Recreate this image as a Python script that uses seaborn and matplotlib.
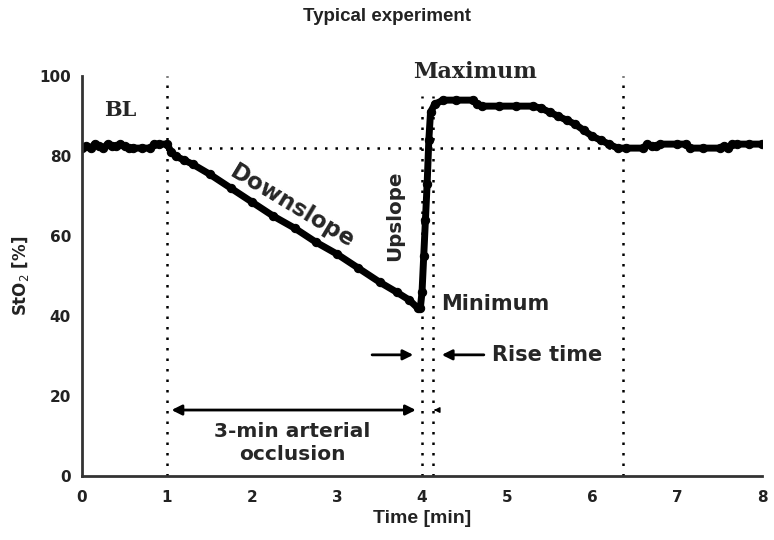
import numpy as np
import pandas as pd
import matplotlib
matplotlib.use("Agg")
import matplotlib.pyplot as plt
import seaborn as sns

# StO2 trace (time in min, StO2 in %)
time_min = [0.00, 0.05, 0.10, 0.15, 0.20, 0.25, 0.30, 0.35, 0.40, 0.45, 0.50, 0.55,
            0.60, 0.70, 0.80, 0.85, 0.90, 1.00, 1.05, 1.10, 1.20, 1.30, 1.50, 1.75,
            2.00, 2.25, 2.50, 2.75, 3.00, 3.25, 3.50, 3.70, 3.85, 3.95, 3.98, 4.00,
            4.02, 4.04, 4.06, 4.08, 4.10, 4.15, 4.25, 4.40, 4.60, 4.65, 4.70, 4.90,
            5.10, 5.30, 5.40, 5.50, 5.60, 5.70, 5.80, 5.90, 6.00, 6.10, 6.20, 6.30,
            6.40, 6.60, 6.65, 6.70, 6.75, 6.80, 7.00, 7.10, 7.15, 7.30, 7.50, 7.55,
            7.60, 7.65, 7.70, 7.85, 8.00]
sto2 = [82.0, 82.5, 82.0, 83.0, 82.5, 82.0, 83.0, 82.5, 82.5, 83.0, 82.5, 82.0,
        82.0, 82.0, 82.0, 83.0, 83.0, 83.0, 81.0, 80.0, 79.0, 78.0, 75.5, 72.0,
        68.5, 65.0, 62.0, 58.5, 55.5, 52.0, 48.5, 46.0, 44.0, 42.0, 42.0, 46.0,
        55.0, 64.0, 73.0, 84.0, 91.0, 93.0, 94.0, 94.0, 94.0, 93.0, 92.5, 92.5,
        92.5, 92.5, 92.0, 91.0, 90.0, 89.0, 88.0, 86.5, 85.0, 84.0, 83.0, 82.0,
        82.0, 82.0, 83.0, 82.5, 82.5, 83.0, 83.0, 83.0, 82.0, 82.0, 82.0, 82.5,
        82.0, 83.0, 83.0, 83.0, 83.0]

x_ticks = [0, 1, 2, 3, 4, 5, 6, 7, 8]
y_ticks = [0, 20, 40, 60, 80, 100]
event_times = [1.0, 4.0, 4.13, 6.37]
baseline = 82

df = pd.DataFrame({"time": time_min, "sto2": sto2})

sns.set_style("white")
plt.rcParams["font.family"] = ["DejaVu Sans"]

fig = plt.figure(figsize=(7.74, 5.40), dpi=100)
ax = fig.add_axes([0.106, 0.1185, 0.8785, 0.7405])

# reference lines
dots = (0, (1, 3.2))
ax.axvline(event_times[0], ymin=0, ymax=1.0, color="black", ls=dots, lw=1.8)
ax.axvline(event_times[1], ymin=0, ymax=0.95, color="black", ls=dots, lw=1.8)
ax.axvline(event_times[2], ymin=0, ymax=0.95, color="black", ls=dots, lw=1.8)
ax.axvline(event_times[3], ymin=0, ymax=1.0, color="black", ls=dots, lw=1.8)
ax.plot([event_times[0], event_times[3]], [baseline, baseline], color="black",
        ls=dots, lw=1.8)

sns.lineplot(data=df, x="time", y="sto2", ax=ax, color="black", lw=5,
             marker="o", markersize=6, markeredgecolor="black")

ax.set_xlim(0, 8)
ax.set_ylim(0, 100)
ax.set_xticks(x_ticks)
ax.set_yticks(y_ticks)
for lbl in ax.get_xticklabels() + ax.get_yticklabels():
    lbl.set_fontweight("bold")
    lbl.set_fontsize(11)
    lbl.set_color("#222222")
ax.tick_params(axis="x", direction="out", length=4, width=1.5, color="#333333", pad=6)
ax.tick_params(axis="y", direction="out", length=4, width=1.5, color="#333333", pad=4)
sns.despine(ax=ax)
for s in ["left", "bottom"]:
    ax.spines[s].set_linewidth(2)
    ax.spines[s].set_color("#333333")

ax.set_xlabel("Time [min]", family="Liberation Sans", fontsize=14,
              fontweight="bold", color="#222222")
ax.xaxis.set_label_coords(0.5, -0.085)
ax.set_ylabel("StO$_2$ [%]", fontsize=12, fontweight="bold", color="#222222")
ax.yaxis.set_label_coords(-0.075, 0.5)
fig.suptitle("Typical experiment", family="Liberation Sans", fontweight="bold",
             fontsize=13.5, y=0.985, color="#222222")

# annotations
ax.text(0.45, 91.5, "BL", family="DejaVu Serif", fontweight="bold", fontsize=15,
        ha="center", va="center")
ax.text(4.62, 101, "Maximum", family="DejaVu Serif", fontweight="bold", fontsize=16,
        ha="center", va="center", clip_on=False)
ax.text(2.47, 67.5, "Downslope", fontweight="bold", fontsize=16.5, rotation=-31,
        ha="center", va="center")
ax.text(3.68, 65, "Upslope", fontweight="bold", fontsize=14.3, rotation=90,
        ha="center", va="center")
ax.text(4.22, 43, "Minimum", fontweight="bold", fontsize=15, ha="left", va="center")
ax.text(4.82, 30.3, "Rise time", fontweight="bold", fontsize=15, ha="left",
        va="center")
ax.text(2.47, 8.3, "3-min arterial\nocclusion", fontweight="bold", fontsize=14.5,
        ha="center", va="center", linespacing=1.25)

arrow = dict(arrowstyle="-|>", color="black", lw=2, mutation_scale=15)
ax.annotate("", xy=(3.93, 30.3), xytext=(3.38, 30.3), arrowprops=arrow)
ax.annotate("", xy=(4.2, 30.3), xytext=(4.76, 30.3), arrowprops=arrow)
ax.annotate("", xy=(1.02, 16.5), xytext=(3.96, 16.5),
            arrowprops=dict(arrowstyle="<|-|>", color="black", lw=2, mutation_scale=15))
ax.annotate("", xy=(4.14, 16.5), xytext=(4.2, 16.5),
            arrowprops=dict(arrowstyle="-|>", color="black", lw=1, mutation_scale=8))

fig.savefig("out.png", dpi=100)
